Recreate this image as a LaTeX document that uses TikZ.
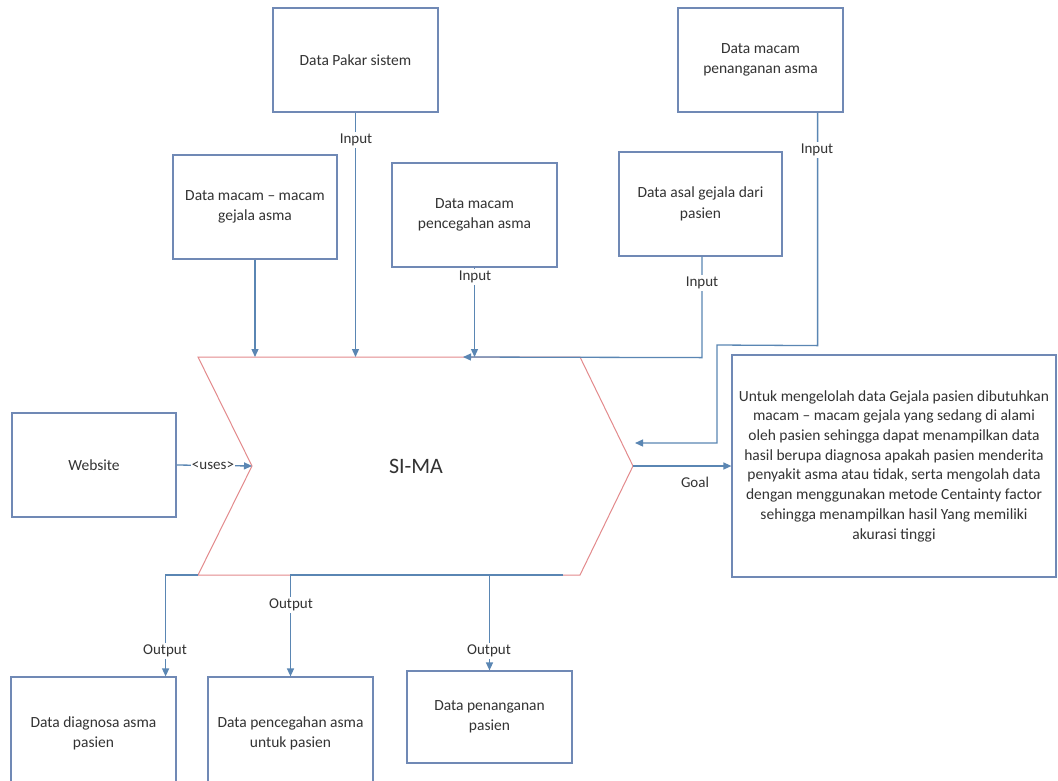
\documentclass[tikz,border=0pt]{standalone}
\usepackage{fontspec}
\setmainfont{Carlito}
\usetikzlibrary{arrows.meta}
\definecolor{boxc}{HTML}{7089B5}
\definecolor{arrc}{HTML}{5A86B3}
\definecolor{chev}{HTML}{E38A8C}
\definecolor{txt}{HTML}{333333}
\tikzset{
  databox/.style={draw=boxc, line width=1.2pt, fill=white, align=center, text=txt,
    font=\fontsize{15.5}{20.5}\selectfont, inner sep=0pt},
  conn/.style={draw=arrc, line width=1.3pt},
  arr/.style={conn, -{Triangle[length=8pt,width=7pt]}},
  lbl/.style={fill=white, text=txt, font=\fontsize{15}{17}\selectfont, inner sep=1.5pt},
}
\begin{document}
\begin{tikzpicture}[x=1pt,y=-1pt]
\useasboundingbox (0,0) rectangle (1058,780);
\fill[white] (0,0) rectangle (1058,780);

% chevron (process)
\coordinate (tl) at (198,357);
\coordinate (tr) at (580,357);
\coordinate (rp) at (633,466);
\coordinate (br) at (580,575);
\coordinate (bl) at (198,575);
\coordinate (lp) at (252,466);
\coordinate (bo) at (563,575);
\draw[chev, line width=1pt, fill=white] (tl) -- (tr) -- (rp) -- (br) -- (bl) -- (lp) -- cycle;
\node[text=txt, font=\fontsize{22}{24}\selectfont] (sima) at (416,466) {SI-MA};

% boxes
\node[databox, minimum width=165pt, minimum height=104pt] (pakar) at (355.5,60) {Data Pakar sistem};
\node[databox, minimum width=165pt, minimum height=104pt] (penmacam) at (760.5,60) {Data macam\\penanganan asma};
\node[databox, minimum width=164pt, minimum height=104pt] (gejala) at (255,207) {Data macam -- macam\\gejala asma};
\node[databox, minimum width=165pt, minimum height=104pt] (cegah) at (474.5,215) {Data macam\\pencegahan asma};
\node[databox, minimum width=163pt, minimum height=104pt] (asal) at (700.5,204) {Data asal gejala dari\\pasien};
\node[databox, minimum width=164pt, minimum height=104pt] (website) at (94,465) {Website};
\node[databox, minimum width=324pt, minimum height=222pt, font=\fontsize{15.5}{19.7}\selectfont] (goal) at (894,466) {Untuk mengelolah data Gejala pasien dibutuhkan\\macam -- macam gejala yang sedang di alami\\oleh pasien sehingga dapat menampilkan data\\hasil berupa diagnosa apakah pasien menderita\\penyakit asma atau tidak, serta mengolah data\\dengan menggunakan metode Centainty factor\\sehingga menampilkan hasil Yang memiliki\\akurasi tinggi};
\node[databox, minimum width=165pt, minimum height=113pt] (diag) at (93.5,733.5) {Data diagnosa asma\\pasien};
\node[databox, minimum width=165pt, minimum height=113pt] (pcg) at (290.5,733.5) {Data pencegahan asma\\untuk pasien};
\node[databox, minimum width=165pt, minimum height=92pt] (pnh) at (489.5,717) {Data penanganan\\pasien};

% inputs
\draw[arr] (gejala.south) -- (gejala.south |- tl);
\draw[arr] (pakar.south) -- (pakar.south |- tl);
\node[lbl] (in1) at (356,140) {Input};
\draw[arr] (cegah.south) -- (cegah.south |- tl);
\node[lbl] (in2) at (475,277) {Input};
\draw[arr] ([xshift=1.5pt]asal.south) -- ++(0,101) -- (463,357);
\node[lbl] (in3) at (702,283) {Input};
\draw[arr] ([xshift=-26pt]penmacam.south east) -- ++(0,233) -- (717,345) -- (717,443) -- (635,443);
\node[lbl] (in4) at (817,150) {Input};

% uses
\draw[arr] (website.east) -- (lp);
\node[lbl, inner sep=0.5pt] (uses) at (213,466) {\textless uses\textgreater};

% goal
\draw[arr] (rp) -- (goal.west);
\node[text=txt, font=\fontsize{15}{17}\selectfont] (goallbl) at (695,482) {Goal};

% outputs
\draw[arr] (bl) -| ([xshift=-11pt]diag.north east);
\draw[arr] (bo) -| (pcg.north);
\draw[arr] (bo) -| (pnh.north);
\node[lbl] (out1) at (165,651) {Output};
\node[lbl] (out2) at (291,605) {Output};
\node[lbl] (out3) at (489,651) {Output};
\end{tikzpicture}
\end{document}
